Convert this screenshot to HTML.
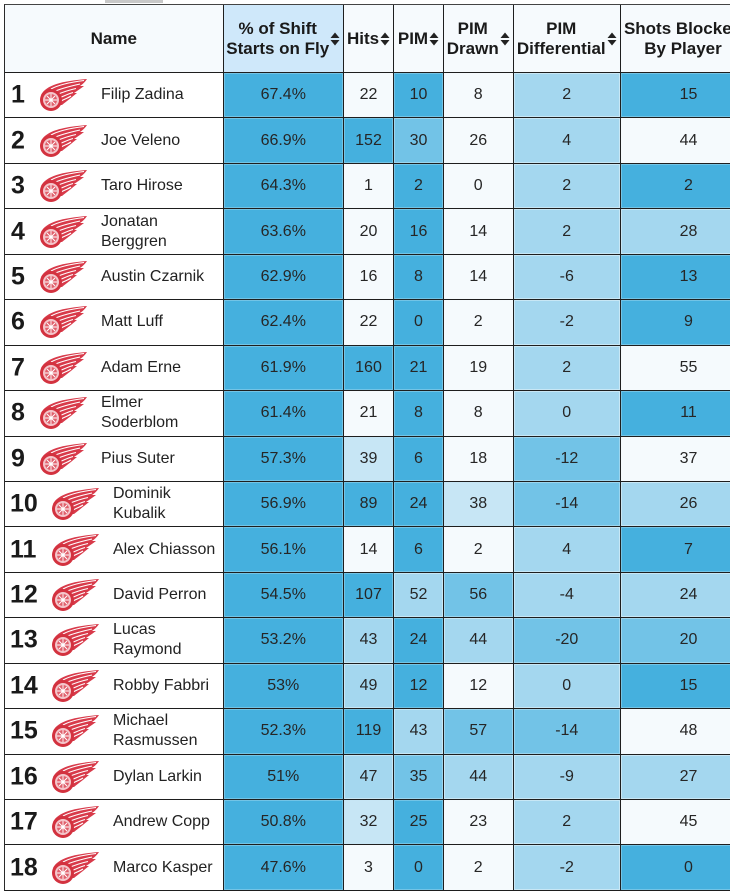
<!DOCTYPE html>
<html><head><meta charset="utf-8"><style>
body{margin:0;width:730px;height:894px;overflow:hidden;background:#fff;position:relative;font-family:"Liberation Sans",Arial,sans-serif;}
.bar{position:absolute;left:105px;top:0;width:58px;height:3px;background:#c8c8c8}
.g{position:absolute;left:4px;top:4px;display:grid;grid-template-columns:218.5px 120.5px 50px 50px 69.5px 107.5px 136px;grid-template-rows:68px repeat(18,45.44px);border-left:1px solid #2a2a2a;border-top:1px solid #444;}
.g>div{box-sizing:border-box;border-right:1px solid #1e1e1e;border-bottom:1px solid #1e1e1e;display:flex;align-items:center;justify-content:center;text-align:center;font-size:16px;color:#262626;background:#f5fafd;}
.g>div.h{font-weight:bold;font-size:17px;line-height:20px;color:#1a1a1a;background:#f6fafd;white-space:nowrap;}
.g>div.hp{background:#cfe8fa;}
.g>div.n{display:block;position:relative;background:#fff;}
.g>div.d{background:#45b0de;box-shadow:inset 0 0 0 1px rgba(255,255,255,.25)}
.g>div.m{background:#72c3e7;box-shadow:inset 0 0 0 1px rgba(255,255,255,.3)}
.g>div.l{background:#a4d7ef;box-shadow:inset 0 0 0 1px rgba(255,255,255,.4)}
.g>div.v{background:#c7e6f5;}
.g>div.w{background:#f5fafd;}
.r{position:absolute;top:50%;transform:translateY(-50%);font-weight:bold;font-size:25px;color:#1a1a1a;left:6px}
.r2{left:5px}
.lg{position:absolute;top:50%;margin-top:-17px;left:33px;width:50px;height:34px}
.lg2{left:45px}
.nm{position:absolute;top:50%;transform:translateY(-50%);left:96px;font-size:16px;line-height:20px;color:#222;text-align:left;white-space:nowrap}
.nm2{left:108px}
.s{display:inline-block;vertical-align:-1px;margin-left:1px}
</style></head><body>
<div class="bar"></div>
<svg width="0" height="0" style="position:absolute">
<defs>
<symbol id="logo" viewBox="0 0 50 34">
<path d="M3 17 C8 7 24 3 49 1 C47 4 45 6 42 8 L46 8 C42 11 39 13 36 15 L39 15 C33 20 29 23 24 27 L12 27 Z" fill="#d83a4a"/>
<path d="M13 11 C22 6 34 4 46 2.5 M15 14 C24 10 33 8 42 6 M18 17 C25 14 31 12 38 10.5 M21 20 C26 18 30 16 35 14.5 M23 23 C27 21 30 20 33 18" stroke="#fff" stroke-width="1.1" fill="none"/>
<circle cx="13" cy="22" r="11" fill="#d3323f"/>
<circle cx="13" cy="22" r="8" fill="#f4c6cb"/>
<circle cx="13" cy="22" r="6" fill="#e0606c"/>
<path d="M13 16 V28 M7 22 H19 M9 18 L17 26 M17 18 L9 26" stroke="#fff" stroke-width="0.9"/>
<circle cx="13" cy="22" r="1.8" fill="#fff"/>
</symbol>
<symbol id="so" viewBox="0 0 10 14"><path d="M0.5 6 L5 0.5 L9.5 6Z M0.5 8 L9.5 8 L5 13.5Z" fill="#222"/></symbol>
</defs></svg>
<div class="g">
<div class="h">Name</div>
<div class="h hp">% of Shift<br>Starts on Fly<svg class="s" width="10" height="14"><use href="#so"/></svg></div>
<div class="h">Hits<svg class="s" width="10" height="14"><use href="#so"/></svg></div>
<div class="h">PIM<svg class="s" width="10" height="14"><use href="#so"/></svg></div>
<div class="h">PIM<br>Drawn<svg class="s" width="10" height="14"><use href="#so"/></svg></div>
<div class="h">PIM<br>Differential<svg class="s" width="10" height="14"><use href="#so"/></svg></div>
<div class="h">Shots Blocked<br>By Player<svg class="s" width="10" height="14"><use href="#so"/></svg></div>

<div class="n"><span class="r">1</span><svg class="lg"><use href="#logo"/></svg><span class="nm">Filip Zadina</span></div>
<div class="d">67.4%</div><div class="w">22</div><div class="d">10</div><div class="w">8</div><div class="l">2</div><div class="d">15</div>

<div class="n"><span class="r">2</span><svg class="lg"><use href="#logo"/></svg><span class="nm">Joe Veleno</span></div>
<div class="d">66.9%</div><div class="d">152</div><div class="m">30</div><div class="w">26</div><div class="l">4</div><div class="w">44</div>

<div class="n"><span class="r">3</span><svg class="lg"><use href="#logo"/></svg><span class="nm">Taro Hirose</span></div>
<div class="d">64.3%</div><div class="w">1</div><div class="d">2</div><div class="w">0</div><div class="l">2</div><div class="d">2</div>

<div class="n"><span class="r">4</span><svg class="lg"><use href="#logo"/></svg><span class="nm">Jonatan<br>Berggren</span></div>
<div class="d">63.6%</div><div class="w">20</div><div class="d">16</div><div class="w">14</div><div class="l">2</div><div class="l">28</div>

<div class="n"><span class="r">5</span><svg class="lg"><use href="#logo"/></svg><span class="nm">Austin Czarnik</span></div>
<div class="d">62.9%</div><div class="w">16</div><div class="d">8</div><div class="w">14</div><div class="l">-6</div><div class="d">13</div>

<div class="n"><span class="r">6</span><svg class="lg"><use href="#logo"/></svg><span class="nm">Matt Luff</span></div>
<div class="d">62.4%</div><div class="w">22</div><div class="d">0</div><div class="w">2</div><div class="l">-2</div><div class="d">9</div>

<div class="n"><span class="r">7</span><svg class="lg"><use href="#logo"/></svg><span class="nm">Adam Erne</span></div>
<div class="d">61.9%</div><div class="d">160</div><div class="d">21</div><div class="w">19</div><div class="l">2</div><div class="w">55</div>

<div class="n"><span class="r">8</span><svg class="lg"><use href="#logo"/></svg><span class="nm">Elmer<br>Soderblom</span></div>
<div class="d">61.4%</div><div class="w">21</div><div class="d">8</div><div class="w">8</div><div class="l">0</div><div class="d">11</div>

<div class="n"><span class="r">9</span><svg class="lg"><use href="#logo"/></svg><span class="nm">Pius Suter</span></div>
<div class="d">57.3%</div><div class="v">39</div><div class="d">6</div><div class="w">18</div><div class="m">-12</div><div class="w">37</div>

<div class="n"><span class="r r2">10</span><svg class="lg lg2"><use href="#logo"/></svg><span class="nm nm2">Dominik<br>Kubalik</span></div>
<div class="d">56.9%</div><div class="d">89</div><div class="d">24</div><div class="v">38</div><div class="m">-14</div><div class="l">26</div>

<div class="n"><span class="r r2">11</span><svg class="lg lg2"><use href="#logo"/></svg><span class="nm nm2">Alex Chiasson</span></div>
<div class="d">56.1%</div><div class="w">14</div><div class="d">6</div><div class="w">2</div><div class="l">4</div><div class="d">7</div>

<div class="n"><span class="r r2">12</span><svg class="lg lg2"><use href="#logo"/></svg><span class="nm nm2">David Perron</span></div>
<div class="d">54.5%</div><div class="d">107</div><div class="l">52</div><div class="m">56</div><div class="l">-4</div><div class="l">24</div>

<div class="n"><span class="r r2">13</span><svg class="lg lg2"><use href="#logo"/></svg><span class="nm nm2">Lucas<br>Raymond</span></div>
<div class="d">53.2%</div><div class="l">43</div><div class="d">24</div><div class="l">44</div><div class="m">-20</div><div class="m">20</div>

<div class="n"><span class="r r2">14</span><svg class="lg lg2"><use href="#logo"/></svg><span class="nm nm2">Robby Fabbri</span></div>
<div class="d">53%</div><div class="l">49</div><div class="d">12</div><div class="w">12</div><div class="l">0</div><div class="d">15</div>

<div class="n"><span class="r r2">15</span><svg class="lg lg2"><use href="#logo"/></svg><span class="nm nm2">Michael<br>Rasmussen</span></div>
<div class="d">52.3%</div><div class="d">119</div><div class="l">43</div><div class="m">57</div><div class="m">-14</div><div class="w">48</div>

<div class="n"><span class="r r2">16</span><svg class="lg lg2"><use href="#logo"/></svg><span class="nm nm2">Dylan Larkin</span></div>
<div class="d">51%</div><div class="l">47</div><div class="m">35</div><div class="l">44</div><div class="l">-9</div><div class="l">27</div>

<div class="n"><span class="r r2">17</span><svg class="lg lg2"><use href="#logo"/></svg><span class="nm nm2">Andrew Copp</span></div>
<div class="d">50.8%</div><div class="v">32</div><div class="d">25</div><div class="w">23</div><div class="l">2</div><div class="w">45</div>

<div class="n"><span class="r r2">18</span><svg class="lg lg2"><use href="#logo"/></svg><span class="nm nm2">Marco Kasper</span></div>
<div class="d">47.6%</div><div class="w">3</div><div class="d">0</div><div class="w">2</div><div class="l">-2</div><div class="d">0</div>
</div>
</body></html>
